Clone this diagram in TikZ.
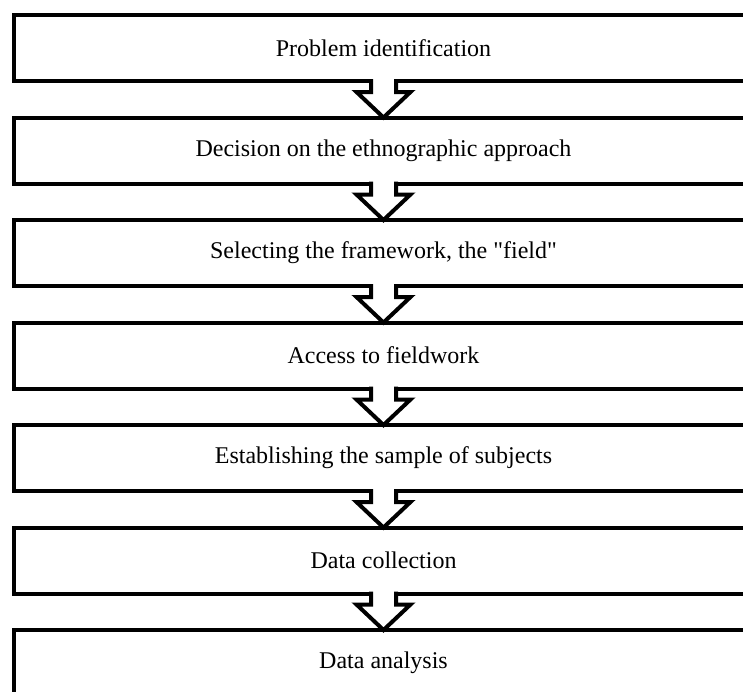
\documentclass[tikz,border=0pt]{standalone}
\usepackage{fontspec}
\setmainfont{Liberation Serif}
\usetikzlibrary{calc}
\tikzset{
  stagebox/.style={draw=black, line width=4pt, rectangle, outer sep=0pt, inner sep=0pt,
    minimum width=786pt, minimum height=66pt},
  stagetext/.style={font=\fontsize{24}{28}\selectfont, inner sep=0pt, text=black},
  blockarrow/.style={draw=black, fill=white, line width=4pt, line join=miter}
}
\newcommand{\flowarrow}[3]{%
  \draw[blockarrow] ($(#3.center |- #1.south)+(-12.5,-2)$) -- ++(0,13) -- ++(-14.5,0)
    -- (#3.center |- #2.north)
    -- ($(#3.center |- #1.south)+(27,11)$) -- ++(-14.5,0) -- ++(0,-13);%
}
\begin{document}
\begin{tikzpicture}[x=1pt,y=-1pt]
\useasboundingbox (0,0) rectangle (743,691);
\clip (0,0) rectangle (743,691);
\foreach \i/\txt in {1/Problem identification,
  2/Decision on the ethnographic approach,
  3/{Selecting the framework, the \textquotedbl field\textquotedbl},
  4/Access to fieldwork,
  5/Establishing the sample of subjects,
  6/Data collection,
  7/Data analysis}{
  \node[stagebox] (b\i) at (407,{48+102.5*(\i-1)}) {};
  \node[stagetext] (t\i) at (383.5,{48+102.5*(\i-1)}) {\txt};
}
\flowarrow{b1}{b2}{t1}
\flowarrow{b2}{b3}{t2}
\flowarrow{b3}{b4}{t3}
\flowarrow{b4}{b5}{t4}
\flowarrow{b5}{b6}{t5}
\flowarrow{b6}{b7}{t6}
\end{tikzpicture}
\end{document}
